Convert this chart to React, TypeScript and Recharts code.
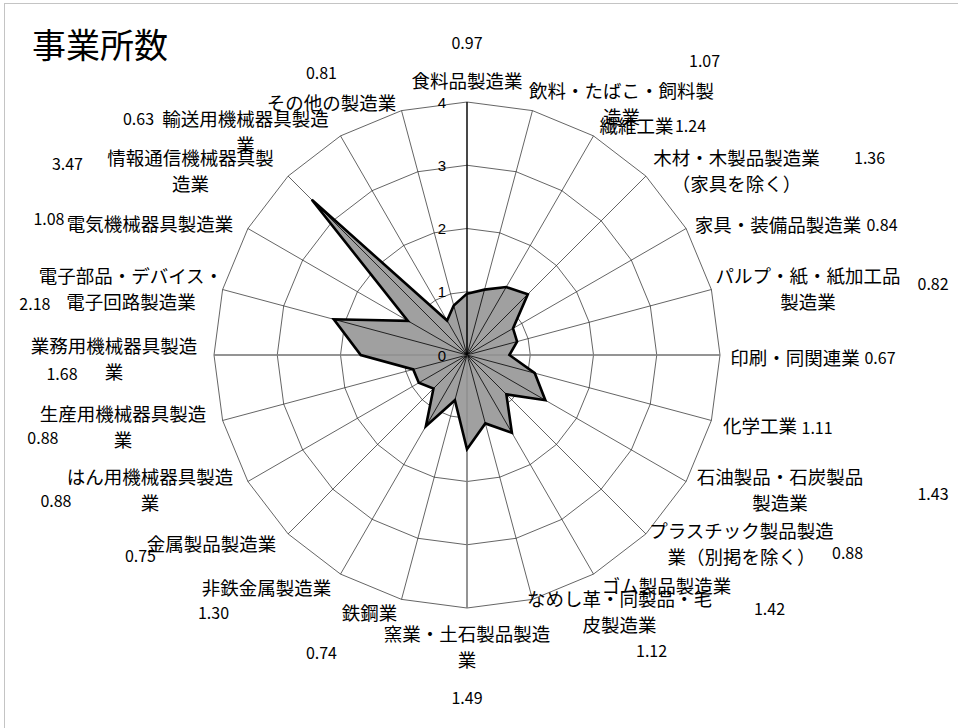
import { RadarChart, Radar, PolarGrid, PolarAngleAxis, PolarRadiusAxis } from "recharts";

const CATEGORIES = [
  "食料品製造業",
  "飲料・たばこ・飼料製造業",
  "繊維工業",
  "木材・木製品製造業（家具を除く）",
  "家具・装備品製造業",
  "パルプ・紙・紙加工品製造業",
  "印刷・同関連業",
  "化学工業",
  "石油製品・石炭製品製造業",
  "プラスチック製品製造業（別掲を除く）",
  "ゴム製品製造業",
  "なめし革・同製品・毛皮製造業",
  "窯業・土石製品製造業",
  "鉄鋼業",
  "非鉄金属製造業",
  "金属製品製造業",
  "はん用機械器具製造業",
  "生産用機械器具製造業",
  "業務用機械器具製造業",
  "電子部品・デバイス・電子回路製造業",
  "電気機械器具製造業",
  "情報通信機械器具製造業",
  "輸送用機械器具製造業",
  "その他の製造業",
];

const VALUES = [
  0.97, 1.07, 1.24, 1.36, 0.84, 0.82, 0.67, 1.11, 1.43, 0.88, 1.42, 1.12,
  1.49, 0.74, 1.3, 0.75, 0.88, 0.88, 1.68, 2.18, 1.08, 3.47, 0.63, 0.81,
];

const RADIUS_TICKS = [0, 1, 2, 3, 4];

// how each category name wraps on the chart
const LABEL_LINES = [
  ["食料品製造業"],
  ["飲料・たばこ・飼料製", "造業"],
  ["繊維工業"],
  ["木材・木製品製造業", "（家具を除く）"],
  ["家具・装備品製造業"],
  ["パルプ・紙・紙加工品", "製造業"],
  ["印刷・同関連業"],
  ["化学工業"],
  ["石油製品・石炭製品", "製造業"],
  ["プラスチック製品製造", "業（別掲を除く）"],
  ["ゴム製品製造業"],
  ["なめし革・同製品・毛", "皮製造業"],
  ["窯業・土石製品製造", "業"],
  ["鉄鋼業"],
  ["非鉄金属製造業"],
  ["金属製品製造業"],
  ["はん用機械器具製造", "業"],
  ["生産用機械器具製造", "業"],
  ["業務用機械器具製造", "業"],
  ["電子部品・デバイス・", "電子回路製造業"],
  ["電気機械器具製造業"],
  ["情報通信機械器具製", "造業"],
  ["輸送用機械器具製造", "業"],
  ["その他の製造業"],
];

// label placement relative to the angle-axis tick point (hand placed in the original)
const NAME_OFFSET: [number, number][] = [
  [0, -14], [87, -13], [39, -4], [85, -13], [85, -1], [89, -12],
  [67, 2], [41, 2], [87, -10], [90, -10], [69, 4], [85, -9],
  [0, 17], [-30, 5], [-70, 6], [-71, 3], [-91, -10], [-92, -10],
  [-92, -10], [-84, -12], [-91, -2], [-92, -13], [-91, -11], [-68, -1],
];
const VALUE_OFFSET: [number, number][] = [
  [0, -52], [170, -43], [93, -4], [218, -13], [189, -1], [214, -4],
  [152, 2], [98, 4], [240, 7], [196, 12], [172, 27], [117, 43],
  [0, 81], [-78, 45], [-123, 31], [-142, 15], [-185, 14], [-172, 14],
  [-144, 18], [-180, 16], [-192, -7], [-215, -7], [-198, -11], [-78, -31],
];

const CX = 467;
const CY = 355;
const FONT = "'Noto Sans CJK JP', 'Noto Sans', sans-serif";

const chartData = CATEGORIES.map((name, i) => ({ name, value: VALUES[i] }));

function AngleTick(props: any) {
  const { x, y, payload } = props;
  const i = CATEGORIES.indexOf(payload.value);
  if (i < 0) return null;
  const [nx, ny] = NAME_OFFSET[i];
  const [vx, vy] = VALUE_OFFSET[i];
  return (
    <g>
      {LABEL_LINES[i].map((line, k) => (
        <text
          key={k}
          x={x + nx}
          y={y + ny + k * 26}
          textAnchor="middle"
          dominantBaseline="central"
          fontSize={18.5}
          fontFamily={FONT}
          fill="#000"
        >
          {line}
        </text>
      ))}
      <text
        x={x + vx}
        y={y + vy}
        textAnchor="middle"
        dominantBaseline="central"
        fontSize={16}
        fontFamily={FONT}
        fill="#000"
      >
        {VALUES[i].toFixed(2)}
      </text>
    </g>
  );
}

function RadiusTick(props: any) {
  const { x, y, payload } = props;
  return (
    <text
      x={x - 25}
      y={y}
      textAnchor="middle"
      dominantBaseline="central"
      fontSize={15}
      fontFamily="'Liberation Sans', Arial, sans-serif"
      fill="#000"
    >
      {payload.value}
    </text>
  );
}

function RadarShape(props: any) {
  const { points } = props;
  if (!points || !points.length) return null;
  const d =
    points.map((p: any, i: number) => `${i ? "L" : "M"}${p.x},${p.y}`).join("") + "Z";
  return (
    <g>
      <path d={d} fill="#a0a0a0" stroke="none" />
      {points.map((p: any, i: number) => (
        <line
          key={i}
          x1={p.cx ?? CX}
          y1={p.cy ?? CY}
          x2={p.x}
          y2={p.y}
          stroke={i === 6 || i === 12 || i === 18 ? "#808080" : "#000"}
          strokeWidth={0.8}
        />
      ))}
      <path d={d} fill="none" stroke="#000" strokeWidth={2.6} strokeLinejoin="miter" />
    </g>
  );
}

export default function App() {
  return (
    <div
      style={{
        position: "absolute",
        left: 0,
        top: 0,
        width: 958,
        height: 728,
        overflow: "hidden",
        background: "#fff",
      }}
    >
      <div
        style={{
          position: "absolute",
          left: 4,
          top: 3,
          width: 1000,
          height: 1000,
          border: "1px solid #c4c4c4",
        }}
      />
      <div
        style={{
          position: "absolute",
          left: 32,
          top: 27,
          fontSize: 34,
          lineHeight: "34px",
          fontFamily: FONT,
          color: "#000",
        }}
      >
        事業所数
      </div>
      <div style={{ position: "absolute", left: 0, top: 0 }}>
        <RadarChart
          width={958}
          height={728}
          cx={CX}
          cy={CY}
          outerRadius={253}
          data={chartData}
          margin={{ top: 0, right: 0, bottom: 0, left: 0 }}
        >
          <PolarGrid gridType="polygon" stroke="#222" strokeWidth={0.7} />
          <PolarGrid
            gridType="polygon"
            polarAngles={[0, 180, 270]}
            polarRadius={[]}
            stroke="#8a8a8a"
            strokeWidth={1.5}
          />
          <PolarAngleAxis
            dataKey="name"
            tick={<AngleTick />}
            tickLine={false}
            axisLine={false}
          />
          <PolarRadiusAxis
            angle={90}
            domain={[0, 4]}
            ticks={RADIUS_TICKS as any}
            tickCount={5}
            tick={<RadiusTick />}
            axisLine={{ stroke: "#000", strokeWidth: 1.2 }}
            tickLine={false}
          />
          <Radar
            dataKey="value"
            shape={<RadarShape />}
            fill="#a0a0a0"
            stroke="#000"
            isAnimationActive={false}
          />
        </RadarChart>
      </div>
    </div>
  );
}
